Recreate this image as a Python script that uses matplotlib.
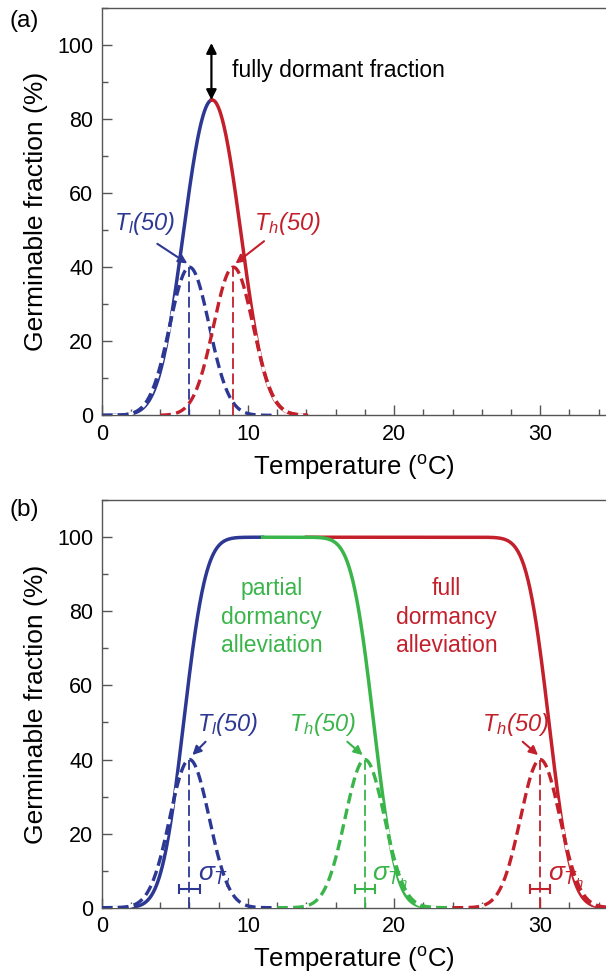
import math
import numpy as np
import matplotlib
matplotlib.use('Agg')
import matplotlib.pyplot as plt
from matplotlib.ticker import MultipleLocator

plt.rcParams['font.family'] = ['Liberation Sans', 'DejaVu Sans']
plt.rcParams['mathtext.fontset'] = 'custom'
plt.rcParams['mathtext.rm'] = 'Liberation Sans'
plt.rcParams['mathtext.it'] = 'Liberation Sans:italic'

# values (deg C / %)
peak_dist = 40.0          # height of the dashed threshold distributions
sd_dist = 1.35            # spread of the dashed distributions
sd_a = 1.35               # spread of the solid curve, panel (a)
sd_b = 1.2                # spread of the solid curves, panel (b)

a_dist_means = [6.0, 9.0]             # Tl(50), Th(50) in (a)
a_solid_medians = [5.6, 9.5]          # where the solid curve in (a) crosses its 50% level
a_peak_T = 7.5

b_dist_means = [6.0, 18.0, 30.0]      # Tl(50), Th(50) partial, Th(50) full
b_solid_medians = [5.6, 18.6, 30.6]
sigma_bar_half = 0.7                  # half width of the sigma bars
sigma_bar_y = 5.0

blue = '#2c3893'
red = '#c4202b'
green = '#3ab54a'
spine_col = '#555555'

erf = np.vectorize(math.erf)


def cdf(T, mu, sd):
    return 50 * (1 + erf((T - mu) / (sd * math.sqrt(2))))


def dist(T, mu):
    return peak_dist * np.exp(-0.5 * ((T - mu) / sd_dist) ** 2)


def germ(T, lo, hi, sd):
    return cdf(T, lo, sd) - cdf(T, hi, sd)


def rng(a, b):
    return np.linspace(a, b, 300)


def style(ax):
    ax.set_xlim(0, 34.5)
    ax.set_ylim(0, 110)
    ax.spines['right'].set_visible(False)
    for s in ['left', 'bottom', 'top']:
        ax.spines[s].set_color(spine_col)
        ax.spines[s].set_linewidth(1.0)
    ax.xaxis.set_major_locator(MultipleLocator(10))
    ax.xaxis.set_minor_locator(MultipleLocator(2))
    ax.yaxis.set_major_locator(MultipleLocator(20))
    ax.yaxis.set_minor_locator(MultipleLocator(10))
    ax.tick_params(which='both', direction='in', top=False, right=False,
                   color=spine_col, labelsize=15.5)
    ax.tick_params(which='major', length=7, width=1.0, pad=6)
    ax.tick_params(which='minor', length=4, width=1.0)
    ax.set_xlabel('Temperature ($\\mathregular{^o}$C)', fontsize=18.5, labelpad=6)
    ax.set_ylabel('Germinable fraction (%)', fontsize=19, labelpad=7)


def dashed(ax, T, y, c):
    ax.plot(T, y, color=c, lw=2.4, ls=(0, (3.2, 1.6)), gapcolor='white', zorder=3)


def vline(ax, x, c):
    ax.plot([x, x], [0, peak_dist], color=c, lw=1.3, ls=(0, (6, 2.5)), zorder=4)


def t50(ax, text, xytext, start, end, c):
    ax.text(xytext[0], xytext[1], text, color=c, fontsize=17, style='italic',
            ha='center', va='center', zorder=6)
    ax.annotate('', xy=end, xytext=start,
                arrowprops=dict(arrowstyle='-|>', color=c, lw=1.5,
                                mutation_scale=13, shrinkA=0, shrinkB=0))


fig = plt.figure(figsize=(6.06, 9.75), dpi=100)
ax1 = fig.add_axes([0.168, 0.574, 0.832, 0.418])
ax2 = fig.add_axes([0.168, 0.069, 0.832, 0.418])

# ---- panel (a)
lo, hi = a_solid_medians
T = rng(0, a_peak_T)
ax1.plot(T, germ(T, lo, hi, sd_a), color=blue, lw=2.5, zorder=2)
T = rng(a_peak_T, 14)
ax1.plot(T, germ(T, lo, hi, sd_a), color=red, lw=2.5, zorder=2)
T = rng(0, 12)
dashed(ax1, T, dist(T, a_dist_means[0]), blue)
T = rng(4, 14)
dashed(ax1, T, dist(T, a_dist_means[1]), red)
vline(ax1, a_dist_means[0], blue)
vline(ax1, a_dist_means[1], red)
peak = germ(np.array([a_peak_T]), lo, hi, sd_a)[0]
ax1.annotate('', xy=(a_peak_T, peak), xytext=(a_peak_T, 100.5),
             arrowprops=dict(arrowstyle='<|-|>', color='black', lw=1.6,
                             mutation_scale=15, shrinkA=0, shrinkB=0))
ax1.text(8.9, 93, 'fully dormant fraction', fontsize=16.5, va='center')
t50(ax1, '$T_l$(50)', (2.9, 51.7), (3.8, 46.3), (5.85, 41.0), blue)
t50(ax1, '$T_h$(50)', (12.7, 51.7), (11.1, 47.0), (9.15, 41.0), red)
style(ax1)

# ---- panel (b)
lo, hp, hf = b_solid_medians
T = rng(0, 11)
ax2.plot(T, germ(T, lo, hp, sd_b), color=blue, lw=2.5, zorder=2)
T = rng(14, 35)
ax2.plot(T, germ(T, lo, hf, sd_b), color=red, lw=2.5, zorder=2)
T = rng(11, 24)
ax2.plot(T, germ(T, lo, hp, sd_b), color=green, lw=2.5, zorder=2)
T = rng(0, 12)
dashed(ax2, T, dist(T, b_dist_means[0]), blue)
T = rng(12, 24)
dashed(ax2, T, dist(T, b_dist_means[1]), green)
T = rng(24, 35)
dashed(ax2, T, dist(T, b_dist_means[2]), red)
for mu, c in zip(b_dist_means, [blue, green, red]):
    vline(ax2, mu, c)
    ax2.errorbar([mu], [sigma_bar_y], xerr=sigma_bar_half, fmt='none', ecolor=c,
                 elinewidth=1.5, capsize=3.5, capthick=1.5, zorder=5)

ax2.text(11.6, 78.4, 'partial\ndormancy\nalleviation', color=green, fontsize=16.5,
         ha='center', va='center', linespacing=1.3)
ax2.text(23.6, 78.4, 'full\ndormancy\nalleviation', color=red, fontsize=16.5,
         ha='center', va='center', linespacing=1.3)
t50(ax2, '$T_l$(50)', (8.6, 49.5), (7.1, 44.8), (6.2, 41.2), blue)
t50(ax2, '$T_h$(50)', (15.1, 49.5), (16.8, 44.8), (17.85, 41.2), green)
t50(ax2, '$T_h$(50)', (28.3, 49.5), (28.8, 44.8), (29.85, 41.2), red)
ax2.text(6.6, 8.2, r'$\sigma_{T_l}$', color=blue, fontsize=19, va='center', zorder=6)
ax2.text(18.5, 8.2, r'$\sigma_{T_h}$', color=green, fontsize=19, va='center', zorder=6)
ax2.text(30.5, 8.2, r'$\sigma_{T_h}$', color=red, fontsize=19, va='center', zorder=6)
style(ax2)

fig.text(0.015, 0.978, '(a)', fontsize=17.5, va='center')
fig.text(0.015, 0.477, '(b)', fontsize=17.5, va='center')

fig.savefig('out.png', dpi=100)
